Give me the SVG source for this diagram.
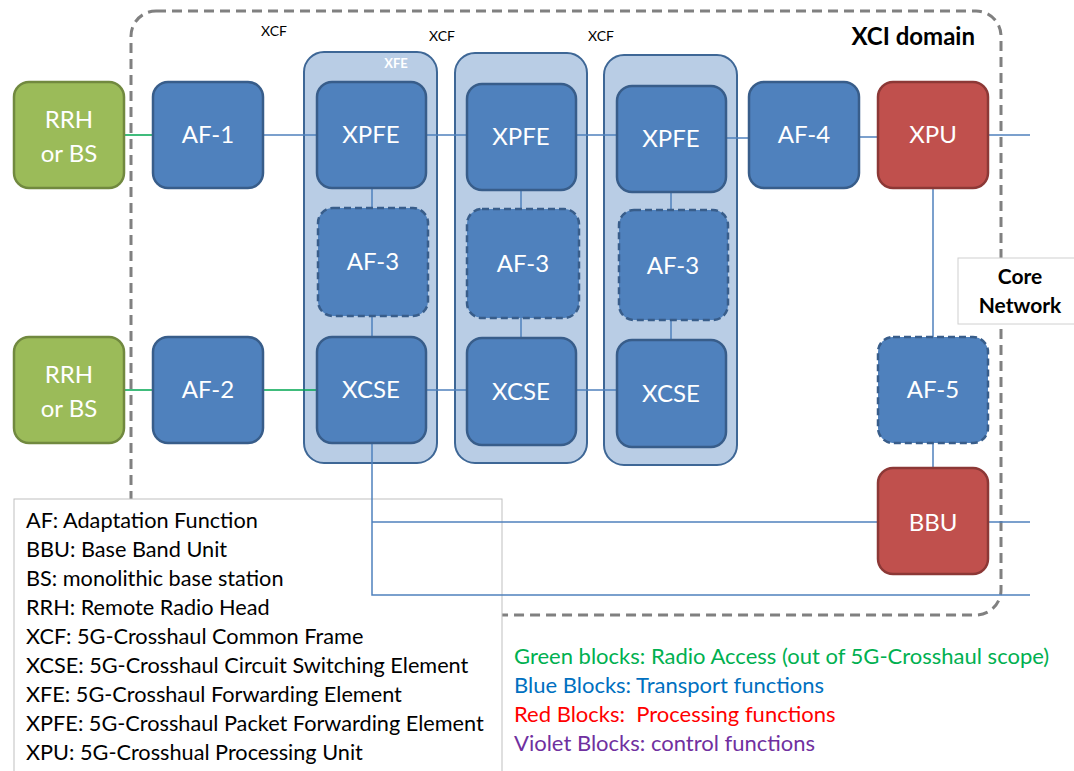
<svg xmlns="http://www.w3.org/2000/svg" width="1074" height="771" viewBox="0 0 1074 771">
<style>
.g{fill:#9BBB59;stroke:#71893F;stroke-width:2.5}
.b{fill:#4F81BD;stroke:#385D8A;stroke-width:2.5}
.bd{fill:#4F81BD;stroke:#385D8A;stroke-width:2.5;stroke-dasharray:7,4}
.r{fill:#C0504D;stroke:#8C3836;stroke-width:2.5}
.c{fill:#B9CDE5;stroke:#3E6796;stroke-width:2}
.t{font-family:Lato,"Open Sans",sans-serif;font-size:24px;fill:#fff;text-anchor:middle}
.s{font-family:Lato,sans-serif;font-size:14px;fill:#000}
.l{font-family:Lato,sans-serif;font-size:21.7px;fill:#000}
.lb{stroke:#4F81BD;stroke-width:1.5;fill:none}
.lg{stroke:#00A651;stroke-width:1.5;fill:none}
</style>
<rect x="0" y="0" width="1074" height="771" fill="#fff"/>
<g id="domain">
<rect x="131" y="11" width="870" height="604" rx="25" fill="none" stroke="#808080" stroke-width="3" stroke-dasharray="10,6"/>
<text x="975" y="45" font-family="Lato,sans-serif" font-size="24" font-weight="bold" text-anchor="end">XCI domain</text>
</g>
<g id="legend">
<rect x="14" y="499" width="488" height="280" fill="#fff" stroke="#BFBFBF" stroke-width="1"/>
<text class="l" x="26" y="528">AF: Adaptation Function</text>
<text class="l" x="26" y="557">BBU: Base Band Unit</text>
<text class="l" x="26" y="586">BS: monolithic base station</text>
<text class="l" x="26" y="615">RRH: Remote Radio Head</text>
<text class="l" x="26" y="644">XCF: 5G-Crosshaul Common Frame</text>
<text class="l" x="26" y="673">XCSE: 5G-Crosshaul Circuit Switching Element</text>
<text class="l" x="26" y="702">XFE: 5G-Crosshaul Forwarding Element</text>
<text class="l" x="26" y="731">XPFE: 5G-Crosshaul Packet Forwarding Element</text>
<text class="l" x="26" y="760">XPU: 5G-Crosshual Processing Unit</text>
</g>
<g id="colorlegend" font-family="Lato,sans-serif" font-size="22">
<text x="514" y="664" fill="#00B050">Green blocks: Radio Access (out of 5G-Crosshaul scope)</text>
<text x="514" y="693" fill="#0070C0">Blue Blocks: Transport functions</text>
<text x="514" y="722" fill="#FF0000">Red Blocks:&#160; Processing functions</text>
<text x="514" y="751" fill="#7030A0">Violet Blocks: control functions</text>
</g>
<g id="xcf-labels">
<text class="s" x="261" y="36">XCF</text>
<text class="s" x="429" y="41">XCF</text>
<text class="s" x="588" y="41">XCF</text>
</g>
<g id="xfe1"><rect class="c" x="304" y="52" width="133" height="411" rx="20"/><text x="396" y="68" font-family="Lato,sans-serif" font-size="13" font-weight="bold" fill="#fff" text-anchor="middle">XFE</text></g>
<g id="xfe2"><rect class="c" x="455" y="53" width="132" height="410" rx="20"/></g>
<g id="xfe3"><rect class="c" x="604" y="55" width="133" height="410" rx="20"/></g>
<g id="connectors">
<line class="lg" x1="124" y1="135" x2="153" y2="135"/>
<line class="lg" x1="124" y1="390" x2="153" y2="390"/>
<line class="lg" x1="263" y1="390" x2="317" y2="390"/>
<line class="lb" x1="263" y1="135" x2="317" y2="135"/>
<line class="lb" x1="426" y1="135" x2="467" y2="135"/>
<line class="lb" x1="576" y1="135" x2="617" y2="135"/>
<line class="lb" x1="726" y1="138" x2="749" y2="138"/>
<line class="lb" x1="859" y1="137" x2="878" y2="137"/>
<line class="lb" x1="988" y1="135" x2="1030" y2="135"/>
<line class="lb" x1="426" y1="390" x2="467" y2="390"/>
<line class="lb" x1="576" y1="390" x2="617" y2="390"/>
<line class="lb" x1="372" y1="188" x2="372" y2="337"/>
<line class="lb" x1="521" y1="190" x2="521" y2="338"/>
<line class="lb" x1="671" y1="192" x2="671" y2="340"/>
<line class="lb" x1="933" y1="188" x2="933" y2="468"/>
<polyline class="lb" points="372,443 372,595 1030,595"/>
<line class="lb" x1="372" y1="522" x2="1030" y2="522"/>
</g>
<g id="rrh1"><rect class="g" x="14" y="82" width="110" height="106" rx="15"/><text class="t" x="69" y="128">RRH</text><text class="t" x="69" y="162">or BS</text></g>
<g id="rrh2"><rect class="g" x="14" y="337" width="110" height="106" rx="15"/><text class="t" x="69" y="383">RRH</text><text class="t" x="69" y="417">or BS</text></g>
<g id="af1"><rect class="b" x="153" y="82" width="110" height="106" rx="15"/><text class="t" x="208" y="143">AF-1</text></g>
<g id="af2"><rect class="b" x="153" y="337" width="110" height="106" rx="15"/><text class="t" x="208" y="398">AF-2</text></g>
<g id="xpfe1"><rect class="b" x="317" y="82" width="109" height="106" rx="15"/><text class="t" x="371" y="143">XPFE</text></g>
<g id="af3a"><rect class="bd" x="318" y="208" width="110" height="108" rx="15"/><text class="t" x="373" y="270">AF-3</text></g>
<g id="xcse1"><rect class="b" x="317" y="337" width="109" height="106" rx="15"/><text class="t" x="371" y="398">XCSE</text></g>
<g id="xpfe2"><rect class="b" x="467" y="84" width="109" height="106" rx="15"/><text class="t" x="521" y="145">XPFE</text></g>
<g id="af3b"><rect class="bd" x="467" y="209" width="112" height="109" rx="15"/><text class="t" x="523" y="272">AF-3</text></g>
<g id="xcse2"><rect class="b" x="467" y="338" width="109" height="107" rx="15"/><text class="t" x="521" y="400">XCSE</text></g>
<g id="xpfe3"><rect class="b" x="617" y="86" width="109" height="106" rx="15"/><text class="t" x="671" y="147">XPFE</text></g>
<g id="af3c"><rect class="bd" x="619" y="210" width="109" height="110" rx="15"/><text class="t" x="673" y="274">AF-3</text></g>
<g id="xcse3"><rect class="b" x="617" y="340" width="109" height="107" rx="15"/><text class="t" x="671" y="402">XCSE</text></g>
<g id="af4"><rect class="b" x="749" y="82" width="110" height="106" rx="15"/><text class="t" x="804" y="143">AF-4</text></g>
<g id="xpu"><rect class="r" x="878" y="82" width="110" height="106" rx="15"/><text class="t" x="933" y="143">XPU</text></g>
<g id="af5"><rect class="bd" x="878" y="337" width="110" height="106" rx="15"/><text class="t" x="933" y="398">AF-5</text></g>
<g id="bbu"><rect class="r" x="878" y="468" width="110" height="106" rx="15"/><text class="t" x="933" y="531">BBU</text></g>
<g id="core"><rect x="958" y="258" width="120" height="66" fill="#fff" stroke="#D0D0D0" stroke-width="1"/><text x="1020" y="284" font-family="Lato,sans-serif" font-size="21" font-weight="bold" text-anchor="middle">Core</text><text x="1020" y="313" font-family="Lato,sans-serif" font-size="21" font-weight="bold" text-anchor="middle">Network</text></g>
</svg>
